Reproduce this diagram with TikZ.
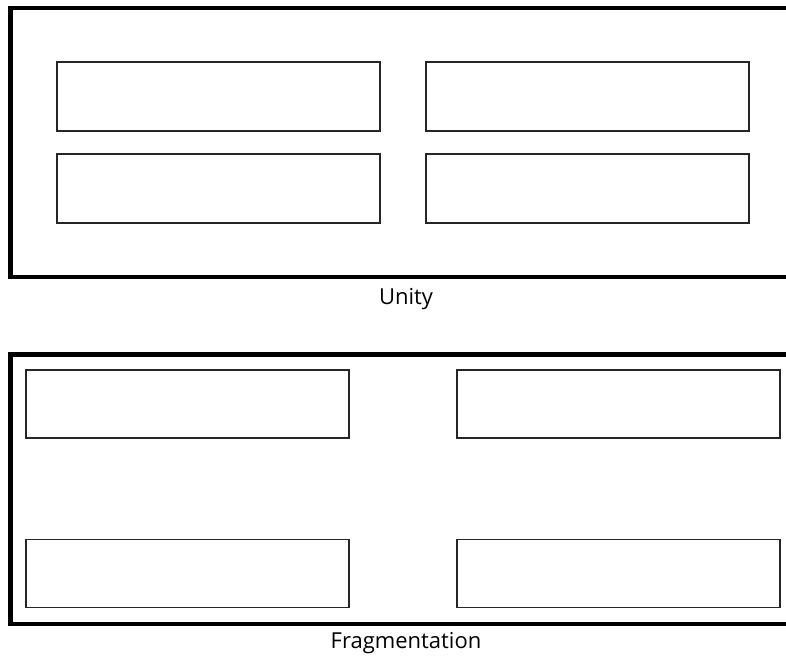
\documentclass[tikz,border=0pt]{standalone}
\usepackage{fontspec}
\setmainfont{Open Sans}
\usetikzlibrary{positioning}

\tikzset{
  pane/.style={draw=black!85, line width=1.4pt, inner sep=0pt,
               minimum width=323pt, minimum height=69pt},
  frame/.style={draw=black, line width=4.5pt},
  caption/.style={font=\fontsize{22}{22}\selectfont, text=black}
}

\begin{document}
\begin{tikzpicture}[x=1pt, y=-1pt]

        %% ── page size ───────────────────────────────
        \useasboundingbox (0,0) rectangle (786,658);
        \clip (0,0) rectangle (786,658);

        %% ── upper picture: unity ─────────────────────

        %% outer frame (runs off the right edge)
        \draw[frame] (10.5,8) rectangle (800,277);

        %% four panes, close together
        \foreach \c/\x in {a/218.5, b/587.5}{
          \node[pane] (u\c1) at (\x, 96.5) {};
          \node[pane] (u\c2) at (\x, 188.5) {};
        }

        \node[caption] (unity) at (406, 299) {Unity};

        %% ── lower picture: fragmentation ─────────────

        %% outer frame (runs off the right edge)
        \draw[frame] (10.5,354.7) rectangle (800,624);

        %% four panes, pushed to the corners
        \foreach \c/\x in {a/187.5, b/618.5}{
          \node[pane, minimum height=68pt] (f\c1) at (\x, 404) {};
          \node[pane, minimum height=68pt] (f\c2) at (\x, 573.5) {};
        }

        \node[caption] (fragmentation) at (406, 643) {Fragmentation};

\end{tikzpicture}
\end{document}
